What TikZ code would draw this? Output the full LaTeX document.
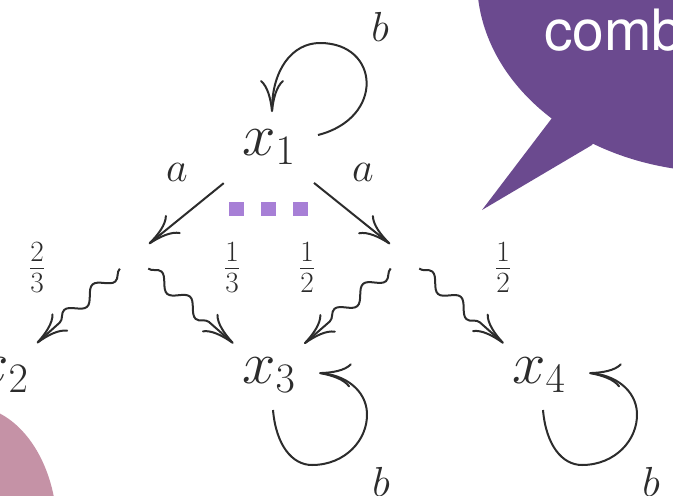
\RequirePackage{fix-cm}
\documentclass[tikz,border=0pt]{standalone}
\usepackage{fontspec}
\newfontfamily\bubblefont{TeX Gyre Heros}
\usetikzlibrary{arrows.meta,decorations.pathmorphing,calc}
\definecolor{ink}{HTML}{2C2C2C}
\definecolor{bubble}{HTML}{6B4A8F}
\definecolor{dots}{HTML}{A77FD6}
\definecolor{blob}{HTML}{C592A6}
\begin{document}
\begin{tikzpicture}[x=1pt,y=1pt,
  state/.style={inner sep=0pt, anchor=base west, font=\fontsize{60}{72}\selectfont, text=ink},
  lbl/.style={inner sep=0pt, font=\fontsize{42}{50}\selectfont, text=ink},
  arr/.style={draw=ink, line width=2pt, -{Computer Modern Rightarrow[length=32pt,width=24pt]}},
  wavy/.style={arr, decorate, decoration={snake, amplitude=6.5pt, segment length=38pt, post length=30pt}},
  dotsq/.style={fill=dots, draw=none}
]
\useasboundingbox (0,0) rectangle (673,-496);
\clip (0,0) rectangle (673,-496);
% background shapes
\fill[bubble] (720,20) ellipse [x radius=243, y radius=192];
\fill[bubble] (552,-118) -- (482,-210) -- (592,-145) -- (620,-100) -- cycle;
\node[anchor=base west, inner sep=0pt, text=white, font=\bubblefont\fontsize{57}{60}\selectfont] (say) at (544,-50) {comb};
\fill[blob] (-30,-530) ellipse [x radius=87, y radius=124];
% states
\node[state] (x1) at (242,-155) {$x_1$};
\node[state] (x2) at (-25,-383) {$x_2$};
\node[state] (x3) at (242,-383) {$x_3$};
\node[state] (x4) at (512,-383) {$x_4$};
\coordinate (L) at (134,-256);
\coordinate (R) at (405,-256);
% purple dots
\fill[dotsq] (229,-202) rectangle (244,-216);
\fill[dotsq] (261,-202) rectangle (276,-216);
\fill[dotsq] (293,-202) rectangle (308,-216);
% a-transitions
\draw[arr] ($(x1.center)!58pt!(L)$) -- ($(L)!19pt!(x1.center)$);
\draw[arr] ($(x1.center)!58pt!(R)$) -- ($(R)!19pt!(x1.center)$);
\node[lbl] (a1) at (177,-172) {$a$};
\node[lbl] (a2) at (363,-172) {$a$};
% probabilistic branches
\draw[wavy] ($(L)!19pt!(x2.center)$) -- ($(x2.center)!47pt!(L)$);
\draw[wavy] ($(L)!19pt!(x3.center)$) -- ($(x3.center)!47pt!(L)$);
\draw[wavy] ($(R)!19pt!(x3.center)$) -- ($(x3.center)!47pt!(R)$);
\draw[wavy] ($(R)!19pt!(x4.center)$) -- ($(x4.center)!47pt!(R)$);
\node[lbl] (p1) at (37,-268) {$\frac{2}{3}$};
\node[lbl] (p2) at (232,-268) {$\frac{1}{3}$};
\node[lbl] (p3) at (307,-268) {$\frac{1}{2}$};
\node[lbl] (p4) at (503,-268) {$\frac{1}{2}$};
% self loops
\draw[arr] (318,-135) .. controls (385,-118) and (380,-43) .. (320,-43)
  .. controls (292,-43) and (272,-70) .. (272,-112);
\node[lbl] (b1) at (380,-27) {$b$};
\draw[arr] (273,-410) .. controls (276,-445) and (292,-465) .. (312,-465)
  .. controls (345,-465) and (368,-440) .. (367,-413)
  .. controls (366,-390) and (345,-375) .. (319,-373);
\node[lbl] (b2) at (381,-482) {$b$};
\draw[arr] (543,-410) .. controls (546,-445) and (562,-465) .. (582,-465)
  .. controls (615,-465) and (638,-440) .. (637,-413)
  .. controls (636,-390) and (615,-375) .. (589,-373);
\node[lbl] (b3) at (651,-482) {$b$};
\end{tikzpicture}
\end{document}
